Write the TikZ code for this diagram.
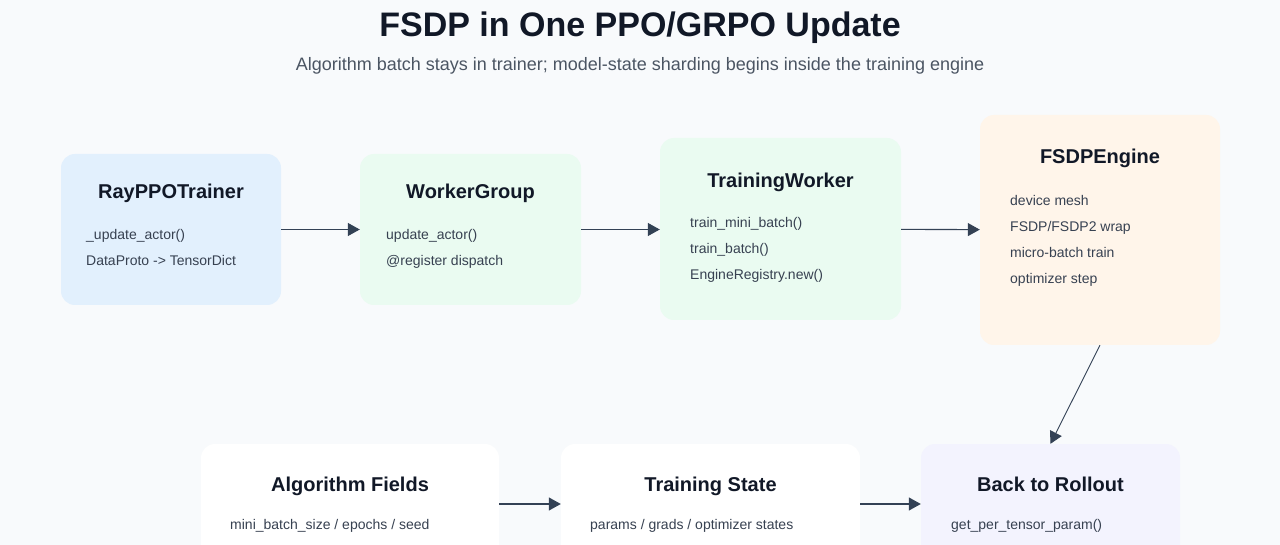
\documentclass[tikz,border=0pt]{standalone}
\usepackage{fontspec}
\setmainfont{Liberation Sans}
\usetikzlibrary{arrows.meta,positioning}
\definecolor{bgcol}{HTML}{F8FAFC}
\definecolor{gtitle}{HTML}{111827}
\definecolor{gsub}{HTML}{4B5563}
\definecolor{gbody}{HTML}{374151}
\definecolor{garrow}{HTML}{334155}
\definecolor{gblue}{HTML}{E2F0FD}
\definecolor{ggreen}{HTML}{EAFBF1}
\definecolor{gorange}{HTML}{FFF5EA}
\definecolor{gpurple}{HTML}{F3F3FE}
\begin{document}
\begin{tikzpicture}[x=1pt,y=-1pt]
    \tikzset{box/.style={
      rectangle,
      rounded corners=14pt,
      inner sep=0pt},
      hd/.style={font=\fontsize{20}{24}\selectfont\bfseries, text=gtitle,
        text height=14.5pt, text depth=4.2pt},
      txt/.style={anchor=north west, inner sep=0pt, align=left,
        font=\fontsize{14}{26}\selectfont, text=gbody},
      link/.style={-{Triangle[length=12pt,width=13pt]}, draw=garrow, line width=1.1pt}}
    \fill[bgcol] (0,0) rectangle (1280,545);
    \useasboundingbox (0,0) rectangle (1280,545);
    \node[font=\fontsize{34}{40}\selectfont\bfseries, text=gtitle] at (640, 27.5) (title) {FSDP in One PPO/GRPO Update};
    \node[font=\fontsize{18}{22}\selectfont, text=gsub] at (640, 65.5) (subtitle) {Algorithm batch stays in trainer; model-state sharding begins inside the training engine};
    % top row
    \node[box, fill=gblue, minimum width=220pt, minimum height=151pt] at (171, 229.5) (trainer) {};
    \node[box, fill=ggreen, minimum width=221pt, minimum height=151pt] at (470.5, 229.5) (group) {};
    \node[box, fill=ggreen, minimum width=241pt, minimum height=182pt] at (780.5, 229) (worker) {};
    \node[box, fill=gorange, minimum width=240pt, minimum height=230pt] at (1100, 230) (engine) {};
    \node[hd] at (171, 193) (trainer-hd) {RayPPOTrainer};
    \node[txt] at (86, 229) (trainer-txt) {\_update\_actor()\\DataProto -> TensorDict};
    \node[hd] at (470.5, 193) (group-hd) {WorkerGroup};
    \node[txt] at (386, 229) (group-txt) {update\_actor()\\@register dispatch};
    \node[hd] at (780.5, 182) (worker-hd) {TrainingWorker};
    \node[txt] at (690, 217) (worker-txt) {train\_mini\_batch()\\train\_batch()\\EngineRegistry.new()};
    \node[hd] at (1100, 158) (engine-hd) {FSDPEngine};
    \node[txt] at (1010, 195) (engine-txt) {device mesh\\FSDP/FSDP2 wrap\\micro-batch train\\optimizer step};
    % bottom row
    \node[box, fill=white, minimum width=298pt, minimum height=120pt] at (350, 504) (fields) {};
    \node[box, fill=white, minimum width=299pt, minimum height=120pt] at (710.5, 504) (state) {};
    \node[box, fill=gpurple, minimum width=259pt, minimum height=120pt] at (1050.5, 504) (rollout) {};
    \node[hd] at (350, 486) (fields-hd) {Algorithm Fields};
    \node[txt] at (230, 519) (fields-txt) {mini\_batch\_size / epochs / seed};
    \node[hd] at (710.5, 486) (state-hd) {Training State};
    \node[txt] at (590, 519) (state-txt) {params / grads / optimizer states};
    \node[hd] at (1050.5, 486) (rollout-hd) {Back to Rollout};
    \node[txt] at (951, 519) (rollout-txt) {get\_per\_tensor\_param()};
    \draw[link] (trainer) -- (group);
    \draw[link] (group.east) -- (worker.west |- group.east);
    \draw[link] (worker) -- (engine);
    \draw[link, line width=0.9pt] (engine.south) -- (rollout.north);
    \draw[link] (fields) -- (state);
    \draw[link] (state) -- (rollout);
\end{tikzpicture}
\end{document}
